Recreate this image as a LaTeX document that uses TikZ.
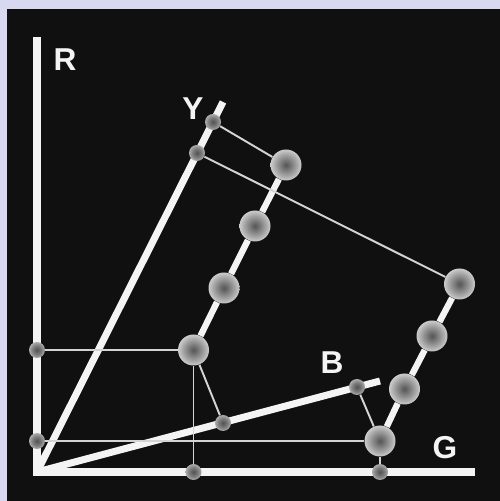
\documentclass[tikz,border=0pt]{standalone}
\usepackage{fontspec}
\setmainfont{Liberation Sans}

\definecolor{lavender}{RGB}{216,216,240}
\definecolor{board}{RGB}{16,16,16}
\definecolor{chalk}{RGB}{244,244,244}
\definecolor{wire}{RGB}{212,212,212}

\pgfdeclareradialshading{ballshade}{\pgfpointorigin}{color(0bp)=(black!66); color(5bp)=(black!58); color(18bp)=(black!34); color(25bp)=(black!20); color(50bp)=(black!20)}
\pgfdeclareradialshading{dotshade}{\pgfpointorigin}{color(0bp)=(black!68); color(15bp)=(black!50); color(25bp)=(black!32); color(50bp)=(black!32)}

\begin{document}
\begin{tikzpicture}[
    font=\fontsize{18}{20}\selectfont\bfseries,
    axis/.style={draw=chalk, line width=4pt},
    link/.style={draw=chalk, line width=3.6pt},
    guide/.style={draw=wire, line width=1.1pt},
    ball/.style={
        circle,
        inner sep=0pt,
        minimum size=0.62cm,
        shading=ballshade
    },
    dot/.style={
        circle,
        inner sep=0pt,
        minimum size=0.32cm,
        shading=dotshade
    },
    lbl/.style={text=chalk}
]

\fill[lavender] (0,0) rectangle (10,10.02);
\fill[board] (0.14,0) rectangle (10,9.84);

\coordinate (o) at (0.74,0.58);
\coordinate (rtip) at (0.74,9.28);
\coordinate (gtip) at (9.50,0.58);
\coordinate (ytip) at (4.46,7.98);
\coordinate (btip) at (7.60,2.40);

\draw[axis, line join=miter] (rtip) -- (o) -- (gtip);
\draw[axis] (o) -- (ytip);
\draw[axis] (o) -- (btip);

\node[lbl] (rlabel) at (1.30,8.82) {R};
\node[lbl] (ylabel) at (3.86,7.84) {Y};
\node[lbl] (blabel) at (6.64,2.76) {B};
\node[lbl] (glabel) at (8.90,1.06) {G};

% projections on the axes
\node[dot] (r1) at (0.74,3.02) {};
\node[dot] (r2) at (0.74,1.20) {};
\node[dot] (g1) at (3.87,0.58) {};
\node[dot] (g2) at (7.60,0.58) {};
\node[dot] (b1) at (4.46,1.56) {};
\node[dot] (b2) at (7.14,2.28) {};
\node[dot] (y1) at (3.94,6.96) {};
\node[dot] (y2) at (4.26,7.58) {};

% first row of colours
\node[ball] (s1) at (3.87,3.02) {};
\node[ball] (s2) at (4.48,4.26) {};
\node[ball] (s3) at (5.10,5.50) {};
\node[ball] (s4) at (5.72,6.72) {};

% second row of colours
\node[ball] (t1) at (7.60,1.20) {};
\node[ball] (t2) at (8.09,2.24) {};
\node[ball] (t3) at (8.64,3.30) {};
\node[ball] (t4) at (9.19,4.34) {};

\draw[link] (s1) -- (s2) -- (s3) -- (s4);
\draw[link] (t1) -- (t2) -- (t3) -- (t4);

\draw[guide] (s1) -- (r1);
\draw[guide] (s1) -- (g1);
\draw[guide] (s1) -- (b1);
\draw[guide] (s4) -- (y2);
\draw[guide] (t1) -- (r2);
\draw[guide] (t1) -- (g2);
\draw[guide] (t1) -- (b2);
\draw[guide] (t4) -- (y1);

\end{tikzpicture}
\end{document}
